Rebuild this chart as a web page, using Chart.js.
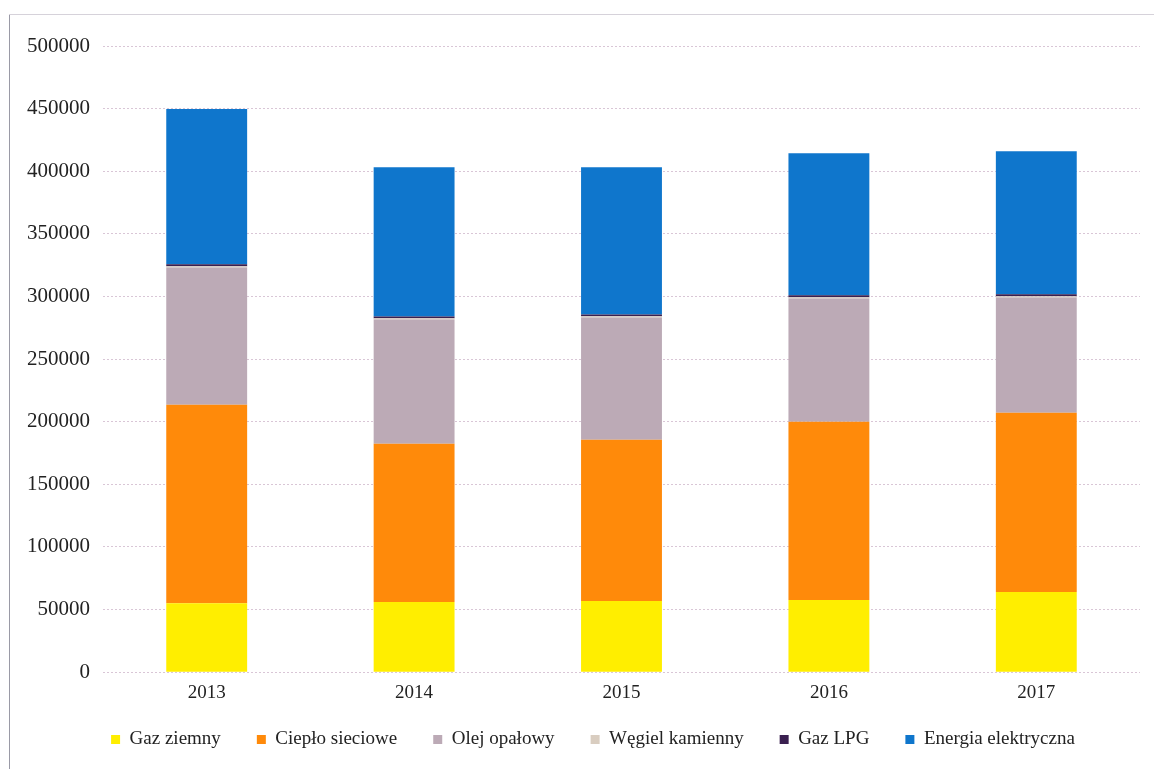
<!DOCTYPE html>
<html>
<head>
<meta charset="utf-8">
<script src="https://cdn.jsdelivr.net/npm/chart.js@4.4.0/dist/chart.umd.min.js"></script>
<style>
  html, body { margin: 0; padding: 0; background: #fff; }
  #wrap { position: relative; width: 1154px; height: 769px; }
  #wrap::before { content: ""; position: absolute; left: 9px; top: 14px; bottom: 0; border-left: 1px solid #9a9aa6; }
  #wrap::after { content: ""; position: absolute; left: 9px; right: 0; top: 14px; border-top: 1px solid #d6d2da; }
  canvas { position: absolute; left: 0; top: 0; }
</style>
</head>
<body>
<div id="wrap"><canvas id="c" width="1154" height="769"></canvas></div>
<script>
// Years on the category axis
const years = ['2013', '2014', '2015', '2016', '2017'];

// Energy use per carrier, stacked bottom to top
const gazZiemny        = [55000, 56000, 56800, 57600, 64000];
const cieploSieciowe   = [158600, 126400, 128800, 142400, 143200];
const olejOpalowy      = [109600, 99200, 97600, 98400, 92000];
const wegielKamienny   = [1000, 1000, 1000, 1000, 1000];
const gazLPG           = [1500, 1500, 1500, 1500, 1500];
const energiaElektr    = [123900, 119100, 117500, 113500, 114300];

// Value axis ticks
const yTicks = [0, 50000, 100000, 150000, 200000, 250000, 300000, 350000, 400000, 450000, 500000];

const serif = '"Liberation Serif", "DejaVu Serif", serif';

const series = [
  { label: 'Gaz ziemny', data: gazZiemny, color: '#ffee00' },
  { label: 'Ciepło sieciowe', data: cieploSieciowe, color: '#ff8a0a' },
  { label: 'Olej opałowy', data: olejOpalowy, color: '#bcaab6' },
  { label: 'Węgiel kamienny', data: wegielKamienny, color: '#d9cdc0' },
  { label: 'Gaz LPG', data: gazLPG, color: '#3a2050' },
  { label: 'Energia elektryczna', data: energiaElektr, color: '#0f76cc' }
];

// Fixed legend band height, and a small shift of the legend row
const legendBox = {
  id: 'legendBox',
  afterInit(chart) {
    const lg = chart.legend;
    const fit = lg.fit.bind(lg);
    lg.fit = function () { fit(); this.height = 56; };
  },
  afterLayout(chart) {
    const lg = chart.legend;
    lg.left += 18;
    lg.right += 18;
    lg.top -= 19;
    lg.bottom -= 19;
  }
};

new Chart(document.getElementById('c'), {
  type: 'bar',
  data: {
    labels: years,
    datasets: series.map(s => ({
      label: s.label,
      data: s.data,
      backgroundColor: s.color,
      borderWidth: 0,
      barPercentage: 0.39,
      categoryPercentage: 1.0
    }))
  },
  plugins: [legendBox],
  options: {
    responsive: false,
    animation: false,
    layout: { padding: { top: 46, right: 14, left: 10, bottom: 0 } },
    scales: {
      x: {
        stacked: true,
        grid: { display: false, drawTicks: false },
        border: { display: false },
        ticks: { color: '#222', font: { family: serif, size: 19 }, padding: 9 }
      },
      y: {
        stacked: true,
        min: 0,
        max: 500000,
        afterBuildTicks: axis => { axis.ticks = yTicks.map(v => ({ value: v })); },
        afterFit: axis => { axis.width = 93; },
        grid: {
          color: '#d9c6d6',
          lineWidth: 1,
          drawTicks: false
        },
        border: { display: false, dash: [2, 2] },
        ticks: {
          color: '#222',
          font: { family: serif, size: 21 },
          padding: 13,
          callback: v => String(v)
        }
      }
    },
    plugins: {
      legend: {
        position: 'bottom',
        labels: {
          color: '#222',
          font: { family: serif, size: 19 },
          boxWidth: 9,
          boxHeight: 9,
          padding: 36
        }
      },
      tooltip: { enabled: false }
    }
  }
});
</script>
</body>
</html>
